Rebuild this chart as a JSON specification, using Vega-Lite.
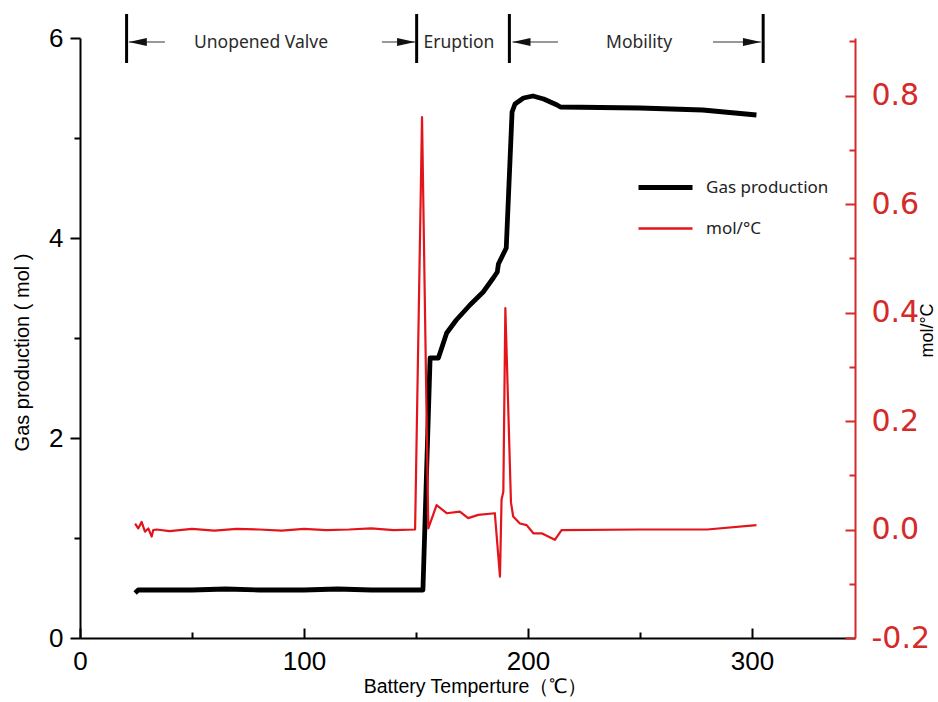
{
  "$schema": "https://vega.github.io/schema/vega-lite/v6.json",
  "width": 775,
  "height": 600,
  "autosize": {"type": "none"},
  "padding": {"left": 80, "top": 38, "right": 83, "bottom": 64},
  "background": "white",
  "config": {
    "view": {"stroke": null},
    "axis": {"grid": false, "labelFont": "Liberation Sans", "titleFont": "Liberation Sans", "titleFontWeight": "normal"}
  },
  "datasets": {
    "gas": [
      {"T": 24.6, "mol": 0.45}, {"T": 26, "mol": 0.48}, {"T": 35, "mol": 0.48}, {"T": 50, "mol": 0.48},
      {"T": 65, "mol": 0.49}, {"T": 80, "mol": 0.48}, {"T": 100, "mol": 0.48}, {"T": 115, "mol": 0.49},
      {"T": 130, "mol": 0.48}, {"T": 145, "mol": 0.48}, {"T": 153.1, "mol": 0.48}, {"T": 156.3, "mol": 2.80},
      {"T": 160, "mol": 2.80}, {"T": 163.7, "mol": 3.05}, {"T": 168, "mol": 3.18}, {"T": 174.1, "mol": 3.33},
      {"T": 180, "mol": 3.46}, {"T": 184.5, "mol": 3.60}, {"T": 186.3, "mol": 3.66}, {"T": 186.8, "mol": 3.74},
      {"T": 190.3, "mol": 3.90}, {"T": 192.9, "mol": 5.26}, {"T": 194.2, "mol": 5.34}, {"T": 198, "mol": 5.40},
      {"T": 202.2, "mol": 5.42}, {"T": 207, "mol": 5.39}, {"T": 213, "mol": 5.33}, {"T": 214.5, "mol": 5.31},
      {"T": 250, "mol": 5.30}, {"T": 278, "mol": 5.28}, {"T": 302, "mol": 5.23}
    ],
    "rate": [
      {"T": 24.6, "v": 0.011}, {"T": 26, "v": 0.002}, {"T": 27.5, "v": 0.014}, {"T": 29, "v": -0.004},
      {"T": 30.5, "v": 0.002}, {"T": 32, "v": -0.013}, {"T": 32.7, "v": -0.001}, {"T": 34.2, "v": 0.0},
      {"T": 40, "v": -0.003}, {"T": 50, "v": 0.001}, {"T": 60, "v": -0.002}, {"T": 70, "v": 0.001},
      {"T": 80, "v": 0.0}, {"T": 90, "v": -0.002}, {"T": 100, "v": 0.001}, {"T": 110, "v": -0.001},
      {"T": 120, "v": 0.0}, {"T": 130, "v": 0.002}, {"T": 140, "v": -0.001}, {"T": 149.6, "v": 0.0},
      {"T": 152.7, "v": 0.76}, {"T": 155.5, "v": 0.002}, {"T": 159.2, "v": 0.045}, {"T": 163.7, "v": 0.030},
      {"T": 169.6, "v": 0.033}, {"T": 173.3, "v": 0.021}, {"T": 177.8, "v": 0.027}, {"T": 185.2, "v": 0.030},
      {"T": 187.5, "v": -0.087}, {"T": 188.2, "v": 0.055}, {"T": 189, "v": 0.07}, {"T": 189.9, "v": 0.408},
      {"T": 192.4, "v": 0.05}, {"T": 193.4, "v": 0.024}, {"T": 196.4, "v": 0.011}, {"T": 199.4, "v": 0.008},
      {"T": 202.4, "v": -0.007}, {"T": 206.1, "v": -0.007}, {"T": 212, "v": -0.019}, {"T": 215, "v": -0.001},
      {"T": 250, "v": 0.0}, {"T": 280, "v": 0.0}, {"T": 302, "v": 0.008}
    ],
    "bounds": [{"T": 20.8}, {"T": 150.3}, {"T": 191.7}, {"T": 305}],
    "arrows": [
      {"from": 37.9, "to": 21.8, "dir": "left"},
      {"from": 134.8, "to": 149.6, "dir": "right"},
      {"from": 213.4, "to": 193.1, "dir": "left"},
      {"from": 282.6, "to": 304, "dir": "right"}
    ],
    "phases": [
      {"phase": "Unopened Valve", "T": 80.8},
      {"phase": "Eruption", "T": 169.2},
      {"phase": "Mobility", "T": 249.6}
    ]
  },
  "layer": [
    {
      "layer": [
        {
          "data": {"name": "gas"},
          "mark": {"type": "line", "strokeWidth": 4.8, "strokeJoin": "round"},
          "encoding": {
            "x": {
              "field": "T", "type": "quantitative",
              "scale": {"domain": [0, 346], "nice": false},
              "axis": {
                "title": "Battery Temperture（℃）",
                "values": [0, 50, 100, 150, 200, 250, 300],
                "labelExpr": "datum.value % 100 === 0 ? format(datum.value, 'd') : ''",
                "domainColor": "#000", "domainWidth": 2,
                "tickColor": "#000", "tickWidth": 2,
                "tickSize": {"condition": {"test": "datum.value % 100 === 0", "value": -10}, "value": -6},
                "labelFontSize": 26, "labelColor": "#000", "labelPadding": 20, "labelFlush": false,
                "titleFontSize": 19.5, "titleColor": "#000", "titlePadding": 3, "titleX": 395, "titleAlign": "center"
              }
            },
            "y": {
              "field": "mol", "type": "quantitative",
              "scale": {"domain": [0, 6], "nice": false},
              "axis": {
                "title": "Gas production ( mol )",
                "values": [0, 1, 2, 3, 4, 5, 6],
                "labelExpr": "datum.value % 2 === 0 ? format(datum.value, 'd') : ''",
                "domainColor": "#000", "domainWidth": 2,
                "tickColor": "#000", "tickWidth": 2,
                "tickSize": {"condition": {"test": "datum.value % 2 === 0", "value": 10}, "value": 6},
                "labelFontSize": 26, "labelColor": "#000", "labelPadding": 7,
                "titleFontSize": 20, "titleColor": "#000", "titleX": -58, "titleY": 314, "titleBaseline": "middle", "titleAlign": "center", "titleAngle": 270
              }
            },
            "color": {
              "datum": "Gas production", "type": "nominal",
              "scale": {"domain": ["Gas production", "mol/°C"], "range": ["#000000", "#e3151b"]},
              "legend": {
                "title": null, "orient": "none", "legendX": 577, "legendY": 141,
                "symbolType": "stroke", "symbolSize": 2916, "symbolStrokeWidth": 3,
                "rowPadding": 21, "labelOffset": 32, "padding": 0,
                "labelFont": "Noto Sans", "labelFontSize": 17, "labelColor": "#222",
                "encode": {"symbols": {"update": {"strokeWidth": {"signal": "datum.value === 'Gas production' ? 4.8 : 2.5"}}}}
              }
            }
          }
        },
        {
          "data": {"name": "bounds"},
          "mark": {"type": "rule", "strokeWidth": 3, "color": "#000"},
          "encoding": {
            "x": {"field": "T", "type": "quantitative", "scale": {"domain": [0, 346], "nice": false}},
            "y": {"datum": 5.75, "type": "quantitative", "scale": {"domain": [0, 6], "nice": false}},
            "y2": {"datum": 6.24}
          }
        },
        {
          "data": {"name": "arrows"},
          "mark": {"type": "rule", "strokeWidth": 1, "color": "#333"},
          "encoding": {
            "x": {"field": "from", "type": "quantitative", "scale": {"domain": [0, 346], "nice": false}},
            "x2": {"field": "to"},
            "y": {"datum": 5.96, "type": "quantitative", "scale": {"domain": [0, 6], "nice": false}}
          }
        },
        {
          "data": {"name": "arrows"},
          "mark": {"type": "point", "filled": true, "opacity": 1, "size": 324, "color": "#111", "strokeWidth": 0},
          "encoding": {
            "x": {"field": "to", "type": "quantitative", "scale": {"domain": [0, 346], "nice": false}},
            "y": {"datum": 5.96, "type": "quantitative", "scale": {"domain": [0, 6], "nice": false}},
            "shape": {
              "field": "dir", "type": "nominal",
              "scale": {"domain": ["left", "right"], "range": ["M 0 0 L 2 -0.45 L 2 0.45 Z", "M 0 0 L -2 -0.45 L -2 0.45 Z"]},
              "legend": null
            }
          }
        },
        {
          "data": {"name": "phases"},
          "mark": {"type": "text", "font": "Noto Sans", "fontSize": 17.5, "color": "#2a2a2a", "baseline": "middle", "align": "center"},
          "encoding": {
            "x": {"field": "T", "type": "quantitative", "scale": {"domain": [0, 346], "nice": false}},
            "y": {"datum": 5.95, "type": "quantitative", "scale": {"domain": [0, 6], "nice": false}},
            "text": {"field": "phase"}
          }
        }
      ]
    },
    {
      "layer": [
        {
          "data": {"name": "rate"},
          "mark": {"type": "line", "strokeWidth": 2.2, "strokeJoin": "round"},
          "encoding": {
            "x": {"field": "T", "type": "quantitative", "scale": {"domain": [0, 346], "nice": false}},
            "y": {
              "field": "v", "type": "quantitative",
              "scale": {"domain": [-0.2, 0.906], "nice": false, "zero": false},
              "axis": {
                "orient": "right",
                "title": "mol/°C",
                "values": [-0.2, -0.1, 0, 0.1, 0.2, 0.3, 0.4, 0.5, 0.6, 0.7, 0.8, 0.9],
                "labelExpr": "abs(round(datum.value * 10)) % 2 === 0 ? replace(format(datum.value, '.1f'), '\u2212', '-') : ''",
                "domainColor": "#d42a2a", "domainWidth": 2,
                "tickColor": "#d42a2a", "tickWidth": 2,
                "tickSize": {"condition": {"test": "abs(round(datum.value * 10)) % 2 === 0", "value": -10}, "value": -6},
                "labelFont": "DejaVu Sans", "labelFontSize": 30, "labelColor": "#d42a2a", "labelPadding": 26,
                "titleFontSize": 18, "titleColor": "#000", "titleAngle": 270, "titleX": 81, "titleY": 292
              }
            },
            "color": {"datum": "mol/°C", "type": "nominal"}
          }
        }
      ]
    }
  ],
  "resolve": {"scale": {"y": "independent"}}
}
